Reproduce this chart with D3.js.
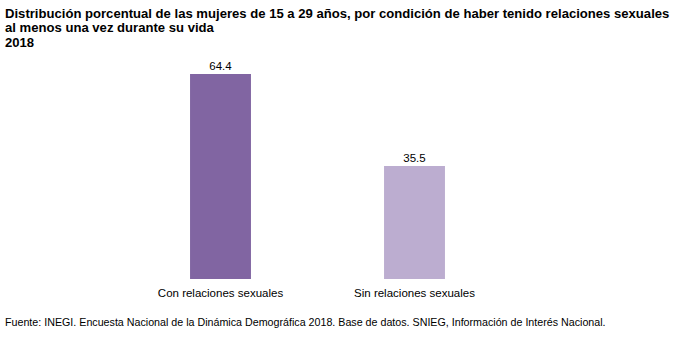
<!DOCTYPE html>
<html>
<head>
<meta charset="utf-8">
<script src="https://cdn.jsdelivr.net/npm/d3@7"></script>
<style>
  body { margin: 0; background: #fff; }
  svg { display: block; font-family: "Liberation Sans", Arial, sans-serif; }
</style>
</head>
<body>
<svg width="681" height="344"></svg>
<script>
const categories = ['Con relaciones sexuales', 'Sin relaciones sexuales']
const values = [64.4, 35.5]
const colors = ['#8165a2', '#bcadd0']
const titleLines = [
    'Distribución porcentual de las mujeres de 15 a 29 años, por condición de haber tenido relaciones sexuales',
    'al menos una vez durante su vida',
    '2018'
]
const source = 'Fuente: INEGI. Encuesta Nacional de la Dinámica Demográfica 2018. Base de datos. SNIEG, Información de Interés Nacional.'

const svg = d3.select('svg')

// title block
svg.append('g').selectAll('text').data(titleLines).enter().append('text')
    .attr('x', 5)
    .attr('y', (d, i) => 17.5 + i * 14.5)
    .attr('font-size', 13.1)
    .attr('font-weight', 'bold')
    .attr('fill', '#000')
    .text(d => d)

const x = d3.scaleBand().domain(categories).range([123.5, 511.5]).paddingInner(0.686).paddingOuter(0.343)
const y = d3.scaleLinear().domain([0, 64.4]).range([279, 74])

const bars = svg.append('g').selectAll('.bar').data(values).enter().append('g').attr('class', 'bar')

bars.append('rect')
    .attr('x', (d, i) => x(categories[i]))
    .attr('y', d => y(d))
    .attr('width', x.bandwidth())
    .attr('height', d => y(0) - y(d))
    .attr('fill', (d, i) => colors[i])

bars.append('text')
    .attr('x', (d, i) => x(categories[i]) + x.bandwidth() / 2)
    .attr('y', d => y(d) - 4)
    .attr('text-anchor', 'middle')
    .attr('font-size', 11.5)
    .attr('fill', '#000')
    .text(d => d.toFixed(1))

// category labels under the bars
svg.append('g').selectAll('text').data(categories).enter().append('text')
    .attr('x', d => x(d) + x.bandwidth() / 2)
    .attr('y', 297)
    .attr('text-anchor', 'middle')
    .attr('font-size', 11.5)
    .attr('fill', '#000')
    .text(d => d)

svg.append('text')
    .attr('x', 5)
    .attr('y', 326)
    .attr('font-size', 10.7)
    .attr('fill', '#000')
    .text(source)
</script>
</body>
</html>
